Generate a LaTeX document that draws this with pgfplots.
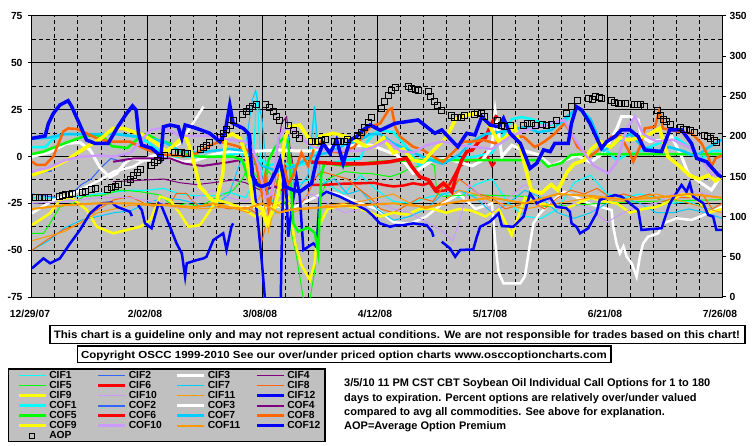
\documentclass[border=0pt]{standalone}
\usepackage{fontspec}
\setmainfont{Liberation Sans}
\usepackage{graphicx}
\usepackage{pgfplots}
\pgfplotsset{compat=1.18}
\pgfplotsset{aop legend/.style={legend image code/.code={\draw[##1] plot coordinates {(13pt,0pt)};}}}
\newcommand\lgt[1]{{\bfseries\fontsize{10.3}{10}\selectfont #1}}
\definecolor{plotgray}{HTML}{C0C0C0}
\definecolor{ccyan}{HTML}{00FFFF}
\definecolor{croyal}{HTML}{3366FF}
\definecolor{cpurple}{HTML}{800080}
\definecolor{cgreen}{HTML}{00FF00}
\definecolor{cred}{HTML}{FF0000}
\definecolor{csky}{HTML}{00CCFF}
\definecolor{corred}{HTML}{FF6600}
\definecolor{cyellow}{HTML}{FFFF00}
\definecolor{clav}{HTML}{CC99FF}
\definecolor{corange}{HTML}{FF9900}
\definecolor{cblue}{HTML}{0000FF}
\begin{document}
\begin{tikzpicture}[x=1pt,y=1pt]
\useasboundingbox (0,0) rectangle (755,-446);
\fill[plotgray] (8.3,-369) rectangle (325,-441.3);
\draw[line width=1.5pt] (8.3,-369) rectangle (325,-441.3);
\begin{axis}[
  at={(32pt,-297pt)}, anchor=south west,
  width=690pt, height=281pt, scale only axis,
  xmin=0, xmax=210, ymin=-75, ymax=75,
  xtick={0,35,...,210},
  xticklabels={12/29/07,2/02/08,3/08/08,4/12/08,5/17/08,6/21/08,7/26/08},
  minor x tick num=4,
  ytick={-75,-50,...,75},
  yticklabels={-75,-50,-25,0,25,50,75},
  minor y tick num=1,
  grid=both,
  major grid style={black, line width=1pt},
  minor grid style={black, line width=1pt, dash pattern=on 4pt off 3pt},
  axis background/.style={fill=plotgray},
  axis line style={black, line width=1pt},
  xtick pos=left, ytick pos=left,
  major tick length=4pt, minor tick length=3pt,
  xtick align=inside, ytick align=outside,
  major x tick style={draw=none},
  minor y tick style={draw=none},
  tick style={black, line width=1pt},
  x tick label style={font=\bfseries\fontsize{10.3}{11}\selectfont, yshift=-10pt, xshift=-2pt},
  y tick label style={font=\bfseries\fontsize{10.3}{11}\selectfont, xshift=-2pt},
  unbounded coords=jump,
  legend columns=4,
  legend cell align=left,
  legend image code/.code={\draw[#1] (0pt,0pt) -- (27pt,0pt);},
  legend style={at={(-0.0221,-0.26334)}, anchor=north west, draw=none, fill=none,
    inner sep=0pt, outer sep=0pt, row sep=0.45pt, /tikz/column sep=0pt,
    nodes={inner xsep=2pt, inner ysep=0pt, text height=7.5pt, text depth=2pt, text width=45pt, align=left}},
]
% CIF1
\addplot[ccyan, line width=1.2pt] coordinates {(0,-22) (10,-22) (20,-20) (30,-18) (35,-18) (40,-17) (45,-20) (50,-21) (55,-21) (60,-19) (65,-22) (67,-15) (68.4,35) (69.5,0) (71,-20) (74,-25) (76,-10) (80,-15) (85,-12) (86,27) (87,-10) (90,-15) (95,-20) (100,-10) (105,-18) (110,-24) (115,-25) (120,-22) (125,-20) (130,-22) (135,-15) (140,-12) (145,-25) (150,-32) (155,-33) (160,-28) (165,-14) (170,-10) (175,-20) (180,-22) (185,-20) (190,-22) (195,-25) (200,-24) (205,-28) (210,-28)};
\addlegendentry{\lgt{CIF1}}
% CIF2
\addplot[croyal, line width=1pt] coordinates {(0,-20) (4,-21) (8,-22) (12,-20) (15,-15) (18,-12) (21,-6) (24,-1) (28,-3)};
\addlegendentry{\lgt{CIF2}}
% CIF3
\addplot[white, line width=2.5pt] coordinates {(0,-30.3) (6.5,-23.2) (12.6,-19.7) (20.7,-12.5) (25,-8) (30.8,-5.4) (36,0) (41,2.6) (45,7) (49,17.7) (52.2,26.6) (55,nan) (60,-26.8) (70,-27) (80,-26.8) (86.6,-21.4) (89.6,-18.8) (93,-20) (100,-25) (105,-28) (110,-35) (115,-36) (120,-32) (125,-25) (130,-20) (135,-28) (140,-25) (141,-46) (142,-62) (143.5,-67.7) (148.6,-67.7) (150,-64) (151.6,-46.4) (152.6,-35.7) (154.6,-30.3) (157.7,-25) (162,-18.8) (166,-22) (169.3,-25) (176.4,-28.6) (176.9,-37.5) (177.9,-46.4) (178.9,-51.7) (180,-48) (181,-53.5) (182.5,-57) (184,-64.1) (185,-53.5) (186,-46.4) (187.5,-42.8) (190.6,-41) (192.1,-35.7) (196.2,-33) (200.7,-33.9) (203.3,-32.1) (207.9,-28.6) (210,-26.8)};
\addlegendentry{\lgt{CIF3}}
% CIF4
\addplot[cpurple, line width=1pt] coordinates {(24.7,-13.4) (30,-13) (35,-12.5) (40,-12) (45,-14) (50,-15) (55,-14) (61.3,-12.5) (65,-14) (70.4,-18.8) (72,-17) (74,-5) (76,18) (77.5,21.3) (78.5,5) (80,-10)};
\addlegendentry{\lgt{CIF4}}
% CIF5
\addplot[cgreen, line width=1pt] coordinates {(0,-41) (3.5,-41) (5.5,-35.7) (8.5,-26.8) (12.6,-25) (15.6,-21.4) (21.7,-20.6) (26.8,-17.9) (32.9,-18.8) (36,-19.7) (39,-20.6) (43,-26.8) (47,-25) (51,-26.8) (56,-22) (61.3,-17.9) (64,-12) (66,-5) (68,-10) (70,-14) (72,-8) (74,-12) (77,-25) (80.5,-53.5) (82.6,-76) (84.6,-76) (86.1,-60.6) (87.1,-25) (90,-12) (95,-8) (100,-9) (102.9,-9) (109,-10.8) (112,-9) (115.1,-6.3) (121.2,-3.6) (122.5,-5) (123.2,-19.7) (125.2,-21.4) (131.3,-20.6) (137.4,-20.6) (145,-21) (151.6,-21.4) (156,-26.8) (166,-25.9) (176,-24.6) (186,-24) (196.7,-23.6) (206.8,-23.2) (210,-23)};
\addlegendentry{\lgt{CIF5}}
% CIF6
\addplot[cred, line width=2.5pt] coordinates {(85,-15.2) (90,-15) (95,-14.5) (100,-14.3) (104,-14) (107,-15.2) (110,-16) (113,-15.5) (116,-14.3) (119,-15.2) (121,-14) (123,-18.8) (126,-18) (128,-12) (130,-5.4) (133,-1.9) (136,-2) (138,2) (140,-5) (141,-3)};
\addlegendentry{\lgt{CIF6}}
% CIF7
\addplot[csky, line width=1pt] coordinates {(0,-50) (5,-45) (10,-38) (15,-34) (20,-32) (25,-30) (30,-29) (35,-25) (40,-22) (45,-23) (50,-25) (55,-27) (60,-20) (65,5) (67,30) (68,35) (70,20) (72,-20) (74,-30) (76,-5) (78,10) (80,-20) (84,-10) (86,27) (88,-15) (92,-12) (96,-20) (100,-18) (105,-28) (110,-34) (115,-32) (120,-28) (125,-20) (130,-18) (135,-22) (140,-30) (145,-25) (150,-18) (155,-22) (160,-30) (165,-33) (170,-30) (175,-25) (180,-22) (185,-25) (190,-30) (195,-30) (200,-28) (205,-30) (210,-33)};
\addlegendentry{\lgt{CIF7}}
% CIF8
\addplot[corred, line width=1pt] coordinates {(0,-50) (4.5,-44.6) (9.5,-39.2) (14.6,-35.7) (19.7,-28.6) (24.8,-23.2) (29.8,-21.4) (33,-24) (35,-25.9) (38,-26.8) (42,-25) (44,-19.7) (47,-19.7) (49,-24) (51,-26.8) (55,-26) (60,-28) (65,-27) (68,-30) (70,-45) (71,-38) (73,-28) (75,-10) (77,-20) (78,5) (80,-10) (82,-25) (84,-20) (86,-12) (88,-8) (92,-10) (96,-12) (100,-18) (103,-22) (106,-28) (110,-30) (114,-26) (118,-22) (122,-24) (126,-14) (128,-18) (130,-12) (133,-16) (136,-20) (140,-22) (144,-28) (148,-26) (152,-24) (156,-28) (160,-22) (164,-18) (168,-20) (172,-17) (176,-22) (180,-20) (184,-22) (188,-20) (192,-24) (196,-22) (200,-22) (204,-20) (207,-28) (210,-25)};
\addlegendentry{\lgt{CIF8}}
% CIF9
\addplot[cyellow, line width=2.5pt] coordinates {(0,-36.6) (5.5,-30.3) (8.5,-23.2) (11.6,-21.4) (16.7,-28.6) (19.7,-37.5) (24.7,-41) (28.8,-39.2) (32.9,-37.5) (36,-33.9) (39,-21.4) (42,-23.2) (45,-30.3) (47.6,-37.5) (51.1,-36.6) (53.6,-30.3) (56.2,-23.2) (60,-25) (63,-27) (66,-30) (68,-32) (70,-30) (72,-38) (73,-30) (75,-25) (78,-22) (80,-46) (82,-58) (84.6,-66) (86,-57) (87,-38) (90,-28) (95,-26) (100,-28) (103,-30) (106,-32) (110,-30) (114,-31) (118,-28) (122,-28) (126,-30) (130,-28) (134,-29) (138,-32) (142,-28) (146,-42) (150,-22) (154,-25) (158,-26) (162,-28) (166,-25) (170,-22) (174,-24) (178,-25) (182,-30) (186,-28) (190,-27) (194,-24) (198,-20) (202,-22) (206,-30) (210,-28)};
\addlegendentry{\lgt{CIF9}}
% CIF10
\addplot[clav, line width=1pt] coordinates {(0,-25) (10,-24) (20,-22) (30,-22) (40,-25) (45,-28) (50,-22) (55,-18) (60,-22) (65,-24) (70,-20) (75,-22) (80,-25) (85,-20) (90,-25) (95,-30) (100,-28) (105,-24) (110,-28) (115,-30) (120,-35) (125,-40) (128,-45) (130,-35) (133,-15) (136,-20) (140,-30) (145,-22) (150,-15) (155,-20) (160,-28) (165,-25) (170,-28) (175,-35) (180,-30) (185,-26) (190,-25) (195,-20) (200,-18) (205,-20) (210,-22)};
\addlegendentry{\lgt{CIF10}}
% CIF11
\addplot[corange, line width=1pt] coordinates {(0,-45) (10,-40) (20,-30) (30,-26) (40,-26) (50,-28) (60,-27) (66,-30) (70,-20) (72,-40) (74,-25) (78,-30) (84,-28) (90,-26) (100,-24) (110,-20) (115,-25) (120,-28) (125,-24) (130,-18) (135,-20) (140,-24) (150,-28) (160,-25) (170,-22) (180,-24) (190,-20) (200,-25) (210,-30)};
\addlegendentry{\lgt{CIF11}}
% CIF12
\addplot[cblue, line width=2.5pt] coordinates {(0,-59.7) (3.5,-54.4) (5.5,-57) (8.5,-54.4) (11.6,-46.4) (14.6,-39.2) (17.7,-30.3) (21.2,-25) (24.3,-24.6) (25.8,-26.8) (29.8,-29.5) (30.4,-31.8) (31.3,nan) (32.3,-26) (33.4,-28.6) (34.4,-35.7) (36.4,-38.3) (38.5,-25) (39.5,-26.8) (42,-37.5) (44,-46.4) (45.6,-51.7) (46.6,-64.1) (47.1,-57) (50.1,-55.3) (52.2,-54.4) (53.1,-53.5) (55.2,-44.6) (58.2,-41) (59.2,-49.9) (60.7,-37.5) (61.2,-35.7) (63,nan) (66.3,12.4) (67.3,-10.8) (68.9,-37.5) (69.9,-55.3) (70.9,-76) (75.7,-76) (76.2,-30) (76.8,-1.9) (77.5,-21.4) (78,-42.8) (79,-28.6) (80.5,-10.8) (81.5,-21.4) (82.6,-49.9) (85.6,-46.4) (86.6,-48.2) (87.6,-21.4) (89.6,-18.8) (93.7,-21.4) (97.8,-25) (101.8,-28.6) (103.5,-31.2) (105.9,-35.7) (109,-37.5) (111,-36.6) (113,-36.6) (116.1,-35.7) (120.1,-36.6) (121.7,-40.1) (122.2,-42.8) (123.4,nan) (124.7,-45.5) (127.2,-49) (128.8,-53.5) (130.3,-49.9) (134.3,-49.6) (135.4,-42.8) (136.4,-37.5) (139.4,-34.8) (142,-30.3) (143,-37.1) (146.5,-37.5) (149.6,-32.1) (151.6,-19.7) (153.6,-25) (155.7,-23.2) (157.7,-22) (159.6,-26.8) (162.7,-27.7) (163.7,-29.5) (164.2,-35.7) (165.7,-37.5) (166.8,-41) (169.3,-38.3) (171.8,-30.3) (172.8,-23.2) (177.4,-20.6) (179.4,-21.4) (184.5,-28.6) (185.5,-39.2) (191.6,-38.3) (194.1,-25) (197.7,-15.2) (199.2,-18.8) (200.2,-14.3) (201.2,-21.4) (204.3,-25) (205.8,-31.2) (207.3,-32.1) (208.3,-39.2) (210,-39.2)};
\addlegendentry{\lgt{CIF12}}
% COF1
\addplot[ccyan, line width=2.5pt] coordinates {(0,5) (4,5) (6,8.8) (9.5,12) (15,12) (20,11.5) (24,12.4) (28,11.5) (32,10.5) (35,8) (38,4) (40,1) (44,0) (50,0) (55,0.5) (60,1) (64,2) (66,1) (68,-3) (70,-2) (72,-5) (75,-3) (80,-5) (85,-3) (90,-4) (95,-2) (100,-1) (102,8) (104,12) (106,14) (110,13) (114,5) (118,-5) (121,-1) (125,-2) (130,-1) (135,0) (140,2) (143,10) (146,20) (149,21) (152,20) (155,18) (158,17) (162,18) (166,26) (169,22) (172,10) (175,3) (178,-2) (181,1) (184,2) (188,5) (192,8) (196,10) (200,5) (204,-1) (207,3) (210,3)};
\addlegendentry{\lgt{COF1}}
% COF2
\addplot[croyal, line width=2pt] coordinates {(0,-9) (2,-9) (4,-8) (6,-7.5)};
\addlegendentry{\lgt{COF2}}
% COF3
\addplot[white, line width=3pt] coordinates {(0,0) (5,2) (10.6,7) (14.6,7.5) (17.7,3.5) (20.7,-6) (23.7,-11) (25.8,-9) (28,-4) (30,-1) (35,-2) (38,0) (42,-1) (46,-3) (50,-2) (55,1) (60,2.6) (65,2.6) (70,3) (75,3.5) (80,3) (85,3) (90,5) (95,6) (100,6) (102.9,6.1) (107,3.5) (111,0.8) (114,-4.5) (116,-9) (119,-5.4) (122,-2) (126,-1) (130,-3) (134,-5) (137,-2) (140,5) (141,24) (143,0) (146,6) (150,3) (154,1) (158,-5) (162,-2) (166,0.5) (170,-3) (174,2) (178,15) (179.4,21.3) (182,21.3) (184.5,19.5) (185.5,10.6) (188,8) (191.6,8.8) (194.7,10.6) (197.7,0) (199.7,-9) (203.8,-14.3) (206.8,-17.9) (208.9,-12.5) (210,-10)};
\addlegendentry{\lgt{COF3}}
% COF4
\addplot[cpurple, line width=2pt] coordinates {(24.7,-2.8) (30.8,-1) (36,-1) (42,-1) (46,-3.6) (49,-4.5) (52,-5) (56,-4) (60,-3) (63,-2) (66,-2) (69,-5) (70.5,-18) (74,-16) (76,-18) (78,-17) (80,-18)};
\addlegendentry{\lgt{COF4}}
% COF5
\addplot[cgreen, line width=2.5pt] coordinates {(0,1.3) (3.5,2.6) (8.5,6.1) (12.6,8.8) (15.6,10.6) (19.7,11.5) (22,10) (24.3,5.5) (29,4.5) (32.9,10.6) (35,12) (38,9) (42,7) (44,3.5) (47,1.5) (51,0) (61,0) (64,-2) (66.3,-14.3) (67,-5) (68.4,0) (69.1,-16) (70.5,-15) (72,-2) (74,5) (76.9,10.6) (78,7) (78.5,-5.4) (79.5,-35.7) (81,-40) (84,-38) (86.1,-40.8) (87.1,-51.5) (88,-10) (89,-3.6) (91,-4) (95,-5) (100,-4) (104,-3) (110,-2.5) (115,-2) (118,-1.9) (125,-1.9) (131,-1.9) (140,-1.9) (150,-1.9) (155,-2) (157,-5.4) (161,-3.6) (164,0.8) (168,1.3) (180,1.3) (195,1.3) (210,1.3)};
\addlegendentry{\lgt{COF5}}
% COF6
\addplot[cred, line width=3.5pt] coordinates {(85,-3) (90,-3.5) (95,-4) (100,-4) (104,-3.6) (109,-2.8) (114,-1) (115.6,-5.4) (118,-10.8) (120.7,-12.5) (122.7,-17.9) (125.2,-14.3) (127.8,-18.8) (129.3,-9) (130.8,-1.9) (132.3,2.6) (134,3.5) (136,8) (138,10) (140,18) (141.5,22)};
\addlegendentry{\lgt{COF6}}
% COF7
\addplot[csky, line width=2.5pt] coordinates {(0,9.5) (5,10) (10,12) (15,12) (20,12) (25,12) (30,11) (35,10) (40,8) (45,3) (50,2) (55,3) (60,4) (65,3) (70,-5) (75,-8) (80,-5) (85,0) (90,2) (95,6) (100,9) (103,12) (106,12) (110,7) (115,3) (120,-1) (125,-4) (130,1) (134,8) (138,12) (142,13) (146,14) (150,16) (154,13) (158,14) (162,20) (166,26) (170,20) (174,3) (178,8) (182,12) (186,5) (190,3) (194,5) (198,3) (202,0) (206,5) (210,9)};
\addlegendentry{\lgt{COF7}}
% COF8
\addplot[corred, line width=2.5pt] coordinates {(0,-2.7) (1.4,-4.5) (4,-4.5) (6.5,0) (8.5,8.8) (9.5,13.3) (11,15) (13.6,14.7) (16.6,12.4) (19.7,9.7) (23.7,7.9) (29.8,7.9) (32.9,5.2) (36,3) (40,1) (42,0.8) (46,0) (50.1,1.7) (53.2,5.2) (57,7.9) (61.3,6.1) (64.3,4.4) (66,3) (68,-2) (70,-20) (71,-10) (72,-28) (74,-10) (76,0) (78,-15) (80,-8) (82,2) (84,-5) (86,5) (88,8) (90,3) (94,2) (98,5) (102.9,15.9) (106,17.7) (108.5,24.8) (109.5,25.7) (110.5,15.9) (112,10.6) (116,5.2) (119,3.5) (122,0) (125,-3) (128,2) (131.3,7.9) (134,8) (137.4,8.8) (141,7) (145.5,10.6) (149.6,10.6) (153,5) (156,8) (159,12) (162,17.7) (164,13) (166,5.2) (169.8,0) (172,3) (176.4,10.6) (179,11) (181.5,3.5) (183,-2.8) (185,5) (186.5,15) (189.6,15.9) (191,24.8) (192,15) (196.7,13.3) (200.7,12.4) (203.8,7) (205.8,0) (206.8,-5.4) (208,-1) (210,0.5)};
\addlegendentry{\lgt{COF8}}
% COF9
\addplot[cyellow, line width=3.5pt] coordinates {(0,-9.9) (4.5,-7.2) (10.6,-1.9) (16.7,5.2) (20.7,9.2) (24.7,15) (27.8,15) (30.8,13.2) (33.9,11.5) (38,7) (41,2.6) (45,8.8) (46.6,11.5) (48,5) (50.1,-9) (51,-16) (52.6,-19) (54,-22) (56,-25) (58,-10) (59,10.6) (61,12) (63.3,9.7) (65.3,0) (66.5,-15) (67.3,-25) (70.4,-28.6) (71.4,-35.7) (73.4,-28.6) (75,-20) (76,-5) (77,10) (78.5,15.9) (81.5,16.8) (84.6,8.8) (86,5) (87.6,10.6) (91.7,12.4) (95.8,10.6) (99,8) (102,5) (104,5) (107,10) (110,2) (113,4) (116,-2) (119,-3) (122,3) (126,10) (129,20) (132,22) (135,23) (138,20) (140,14) (142,8) (144,10) (147,16) (150,-5) (152,-18) (155,-19.6) (158,-15) (160,-18) (163,-8) (165,-4) (168,-2) (170,3.5) (173,8) (176,5) (179,10) (181.5,8.8) (185,10) (188,12) (191,15) (193.5,0) (197,-5) (200,-10) (203,-12) (206,-10) (208,-13) (210,-11)};
\addlegendentry{\lgt{COF9}}
% COF10
\addplot[clav, line width=2.5pt] coordinates {(0,-8) (5,-6) (10,-2) (15,0) (20,0.5) (25,0) (30,2) (33,8) (36,14) (40,15.5) (45,11) (50,11) (55,11) (60,9) (65,8) (67,5) (69,-5) (71,-22) (73,-20) (75,10) (77,15) (80,14) (83,8) (86,5) (90,3) (95,3) (100,3) (104,5) (108,8.8) (112,3) (116,2) (120,6) (125,8) (130,6) (135,5) (140,4) (145,10) (150,14) (155,16) (158,17.7) (162,19.5) (165,10) (168,2) (171,-5) (175.4,-9) (178,-3) (181,15) (183.5,21.3) (186,12) (190,8) (195,9) (200,5) (204,-2) (207,-10) (210,-8)};
\addlegendentry{\lgt{COF10}}
% COF11
\addplot[corange, line width=2pt] coordinates {(0,-28) (5,-27) (10,-26) (20,-25) (30,-25) (40,-26) (50,-27) (55,-25) (60,-27) (65,-28) (70,-25) (75,-30) (80,-28) (90,-27) (100,-26) (110,-25) (120,-27) (130,-24) (140,-22) (150,-25) (160,-20) (170,-21) (180,-23) (190,-22) (200,-20) (210,-22)};
\addlegendentry{\lgt{COF11}}
% COF12
\addplot[cblue, line width=3.5pt] coordinates {(0,9.7) (4,11) (5,17.7) (6.5,23) (8.5,27.5) (11,29.8) (12.1,26.6) (14.6,16.8) (16.6,8.8) (19.2,7) (23.2,7) (25.8,15) (28.8,23) (30.6,27) (31.7,24.8) (32.4,12.4) (33.4,6.1) (36.4,4.4) (38.2,1.7) (39.2,-1) (40,15.9) (42,16.8) (44.5,15.9) (45.6,9.7) (46.6,16.8) (50.1,15) (54.1,12.4) (57.2,7.9) (58.7,12.4) (60.2,27.5) (61.2,17.7) (64.3,15) (66,12) (67,-10) (68.5,-15) (70,-16) (72.4,-14.3) (74.4,-7.2) (75.5,-1.9) (77,-16) (79.5,-17.9) (81.5,-18.8) (85.1,-14.3) (86.6,-1.9) (88.6,7) (90.7,1.7) (92.7,8.8) (94.7,-3.7) (96.8,8.8) (98.8,10.6) (100.8,14.2) (102.9,16.8) (106,14) (110.5,17.7) (117.5,19.5) (122.6,12.4) (124.7,14.2) (129.6,5.2) (132.3,12.4) (134.8,11.5) (136.9,21.3) (139.4,16.8) (142,15.9) (143.5,20.4) (145.5,12.4) (148.6,7) (151.6,-6.3) (153.6,-3.6) (155.7,3.5) (157.7,2.6) (159.1,7) (163.2,7) (164.2,17.7) (165.7,26.6) (167.3,24.8) (169.8,17.7) (173.3,4.4) (174.9,7.9) (177.4,10.6) (179.4,14.2) (182,14.2) (184.5,10.6) (186.5,3.5) (191.6,2.6) (194.1,14.2) (197.7,14.2) (200.7,7) (202.3,-1) (205.3,-2.8) (208.9,-9.9) (210,-11)};
\addlegendentry{\lgt{COF12}}
\addlegendimage{black, only marks, mark=square, mark size=2.5pt, line width=0.8pt, aop legend}
\addlegendentry{\lgt{AOP}}
\end{axis}
\begin{axis}[
  at={(32pt,-297pt)}, anchor=south west,
  width=690pt, height=281pt, scale only axis,
  xmin=0, xmax=210, ymin=0, ymax=350,
  axis x line=none, axis y line*=right,
  ytick={0,50,...,350},
  yticklabels={0,50,100,150,200,250,300,350},
  ytick align=outside, major tick length=4pt,
  tick style={black, line width=1pt},
  axis line style={black, line width=1pt},
  y tick label style={font=\bfseries\fontsize{10.3}{11}\selectfont},
]
\addplot[only marks, mark=square, mark size=3pt, mark options={black, line width=0.8pt}] coordinates {(1.1,123.7) (2.4,124) (3.9,124) (5.1,124) (8.2,125) (9.3,126) (10.3,128.3) (11.4,128.3) (12.3,129.5) (15.2,130.8) (16.3,132) (18.2,134.5) (19.2,134.9) (23,134.5) (24.3,136.1) (25.3,138.3) (26.3,139.9) (29.1,143.2) (30,147) (31,151.1) (32,155.3) (33.1,158.6) (36.2,164) (37.1,167.3) (38.3,170.6) (39,173.5) (40.2,176.9) (43.2,180.2) (44.5,179.7) (45.6,179.7) (46.6,179.4) (47.4,179.4) (51.1,184) (52.1,186.5) (53.2,189.3) (53.9,192.7) (57.4,199.3) (58.2,203.9) (59.3,208.9) (60.3,214.2) (61.3,220.1) (64.1,227) (65.1,231.7) (66.1,235.4) (67.2,237.9) (68.2,240.4) (71.1,240.4) (72.4,235.8) (73.4,230.8) (74.5,225.4) (75.2,219.6) (78.1,213.9) (79.5,208) (80.3,202.7) (81.3,198.1) (85.1,194.3) (86.1,194.3) (87.1,194.3) (88.2,195.2) (89.2,196.8) (91.9,194.3) (92.9,194.3) (94,194.3) (95,194.3) (96.1,195.9) (99,200.9) (100.1,205.5) (101.3,211.4) (102.4,217.1) (103.4,223.8) (106.2,235) (107.4,243.3) (108.4,250.7) (109.5,257) (110.5,260.7) (114.5,261.9) (115.6,259.9) (116.6,258.7) (117.6,257.8) (120.6,255.7) (121.4,249.5) (122.4,244.1) (123.5,238.3) (124.5,232) (127.5,226.7) (128.5,223.8) (129.6,223.8) (130.6,223.8) (131.6,225.8) (134.6,227.6) (135.6,229.6) (136.7,228.8) (137.7,225.4) (141.7,220.5) (142.9,214.2) (143.9,212.1) (145.5,213.4) (149.5,213.9) (150.9,216.3) (151.9,216.3) (153.1,214.2) (155.3,215.5) (156.6,214.2) (158.2,215.1) (159.5,220.5) (162.7,228.8) (164.3,237) (166.1,245.4) (169.3,247.5) (170.5,246.2) (171.6,249.5) (172.6,248.7) (173.4,247) (176.4,244.5) (177.4,242) (178.4,241.3) (179.5,240.8) (180.5,240.8) (183.3,240.4) (184.3,240.4) (185.3,240.4) (186.4,237.9) (190.4,232) (191.4,226.7) (192.1,221.7) (193.2,219.2) (194.2,215.1) (197.2,210.9) (198.2,209.2) (199.3,208.9) (200.3,207.1) (201.5,204.6) (204.5,201.4) (205.5,199.7) (206.6,197.7) (207.6,195.6) (208.4,192.7)};
\end{axis}
\draw[line width=1.2pt, fill=white] (50,-325.7) rectangle (745,-343.3);
\node[anchor=base, inner sep=0pt] at (396.9,-338.4) {\resizebox{686pt}{\height}{\bfseries\fontsize{10.8}{12}\selectfont This chart is a guideline only and may not represent actual conditions. We are not responsible for trades based on this chart!}};
\draw[line width=1.2pt, fill=white] (77.3,-346) rectangle (611,-362.7);
\node[anchor=base, inner sep=0pt] at (343.9,-358) {\resizebox{525.7pt}{\height}{\bfseries\fontsize{10.3}{12}\selectfont Copyright OSCC 1999-2010 See our over/under priced option charts www.osccoptioncharts.com}};
\node[anchor=base west, inner sep=0pt, font=\bfseries\fontsize{11}{13}\selectfont] at (344,-386.5) {3/5/10 11 PM CST CBT Soybean Oil Individual Call Options for 1 to 180};
\node[anchor=base west, inner sep=0pt, font=\bfseries\fontsize{11}{13}\selectfont] at (344,-401) {days to expiration. Percent options are relatively over/under valued};
\node[anchor=base west, inner sep=0pt, font=\bfseries\fontsize{11}{13}\selectfont] at (344,-415.3) {compared to avg all commodities. See above for explanation.};
\node[anchor=base west, inner sep=0pt, font=\bfseries\fontsize{11}{13}\selectfont] at (344,-429.8) {AOP=Average Option Premium};
\end{tikzpicture}
\end{document}
